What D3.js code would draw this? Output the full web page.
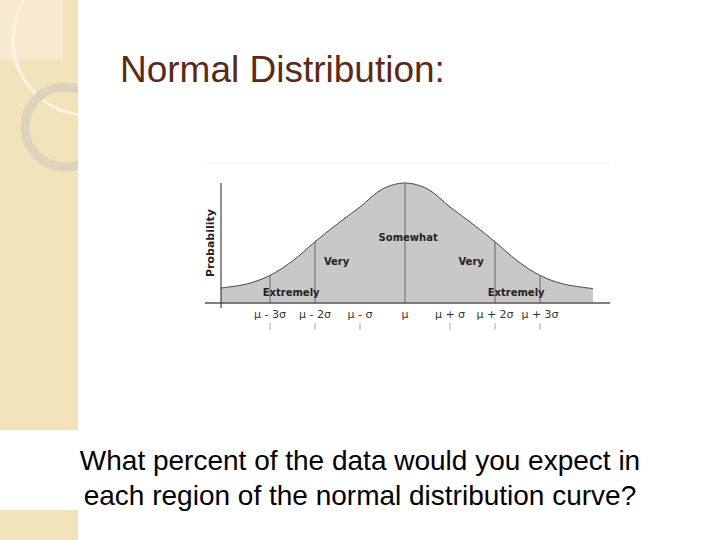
<!DOCTYPE html><html><head><meta charset="utf-8">
<script src="https://cdn.jsdelivr.net/npm/d3@7"></script>
<style>body{margin:0;background:#fff}svg{display:block}</style></head><body>
<svg id="c" width="720" height="540"></svg>
<script>
const curveX=[-4.09,-3.5,-3,-2.5,-2,-1.5,-1,-0.5,0,0.5,1,1.5,2,2.5,3,3.5,4.18];
const curveY=[0.125,0.16,0.23,0.35,0.51,0.66,0.8,0.95,1,0.95,0.8,0.66,0.51,0.35,0.23,0.16,0.12];
const dividers=[-3,-2,0,2,3];
const tickLabels=["μ - 3σ","μ - 2σ","μ - σ","μ","μ + σ","μ + 2σ","μ + 3σ"];
const tickVals=[-3,-2,-1,0,1,2,3];
const regionLabels=[{t:"Somewhat",x:0.07,y:0.52},{t:"Very",x:-1.52,y:0.32},{t:"Very",x:1.47,y:0.32},{t:"Extremely",x:-2.53,y:0.06},{t:"Extremely",x:2.47,y:0.06}];
const svg=d3.select("#c");
svg.append("rect").attr("x",0).attr("y",0).attr("width",78).attr("height",430).attr("fill","#f3e3bb");
svg.append("rect").attr("x",0).attr("y",510).attr("width",78).attr("height",30).attr("fill","#f3e3bb");
svg.append("rect").attr("x",0).attr("y",0).attr("width",63).attr("height",60).attr("fill","#f7ead0");
svg.append("circle").attr("cx",88).attr("cy",40).attr("r",75).attr("fill","none").attr("stroke","#fbf4e2").attr("stroke-width",3);
svg.append("circle").attr("cx",65).attr("cy",127).attr("r",40).attr("fill","none").attr("stroke","#ddd3bd").attr("stroke-width",9);
svg.append("rect").attr("x",78).attr("y",0).attr("width",642).attr("height",540).attr("fill","#fff");
svg.append("text").attr("x",120).attr("y",82).attr("font-family","Liberation Sans, Arial").attr("font-size",37).attr("fill","#5b2a17").text("Normal Distribution:");
const x=d3.scaleLinear().domain([0,1]).range([405,450]);
const y=d3.scaleLinear().domain([0,1]).range([303,183]);
const g=svg.append("g");
g.append("line").attr("x1",205).attr("x2",610).attr("y1",163).attr("y2",163).attr("stroke","#eee");
const pts=curveX.map((v,i)=>[v,curveY[i]]);
g.append("path").datum(pts).attr("d",d3.area().x(d=>x(d[0])).y0(y(0)).y1(d=>y(d[1])).curve(d3.curveCatmullRom)).attr("fill","#c8c8c8");
g.append("path").datum(pts).attr("d",d3.line().x(d=>x(d[0])).y(d=>y(d[1])).curve(d3.curveCatmullRom)).attr("fill","none").attr("stroke","#444").attr("stroke-width",1);
const interp=v=>{for(let i=0;i<curveX.length-1;i++){if(v>=curveX[i]&&v<=curveX[i+1]){const t=(v-curveX[i])/(curveX[i+1]-curveX[i]);return curveY[i]+t*(curveY[i+1]-curveY[i]);}}return 0;};
dividers.forEach(d=>g.append("line").attr("x1",x(d)).attr("x2",x(d)).attr("y1",y(0)).attr("y2",y(interp(d))).attr("stroke","#666"));
g.append("line").attr("x1",205).attr("x2",610).attr("y1",y(0)).attr("y2",y(0)).attr("stroke","#555").attr("stroke-width",1.5);
g.append("line").attr("x1",221).attr("x2",221).attr("y1",183).attr("y2",308).attr("stroke","#222");
tickVals.forEach((v,i)=>{
 g.append("text").attr("x",x(v)).attr("y",318).attr("text-anchor","middle").attr("font-family","DejaVu Sans").attr("font-size",11).attr("fill","#333").text(tickLabels[i]);
 if(v!==0)g.append("line").attr("x1",x(v)).attr("x2",x(v)).attr("y1",323).attr("y2",330).attr("stroke","#aaa");
});
regionLabels.forEach(r=>g.append("text").attr("x",x(r.x)).attr("y",y(r.y)).attr("text-anchor","middle").attr("font-family","DejaVu Sans").attr("font-weight","bold").attr("font-size",10).attr("fill","#222").text(r.t));
g.append("text").attr("transform","translate(214,243) rotate(-90)").attr("text-anchor","middle").attr("font-family","DejaVu Sans").attr("font-weight","bold").attr("font-size",11).attr("fill","#222").text("Probability");
const bt=["What percent of the data would you expect in","each region of the normal distribution curve?"];
bt.forEach((t,i)=>svg.append("text").attr("x",360).attr("y",470+i*35).attr("text-anchor","middle").attr("font-family","Liberation Sans, Arial").attr("font-size",28).attr("fill","#000").text(t));
</script></body></html>
